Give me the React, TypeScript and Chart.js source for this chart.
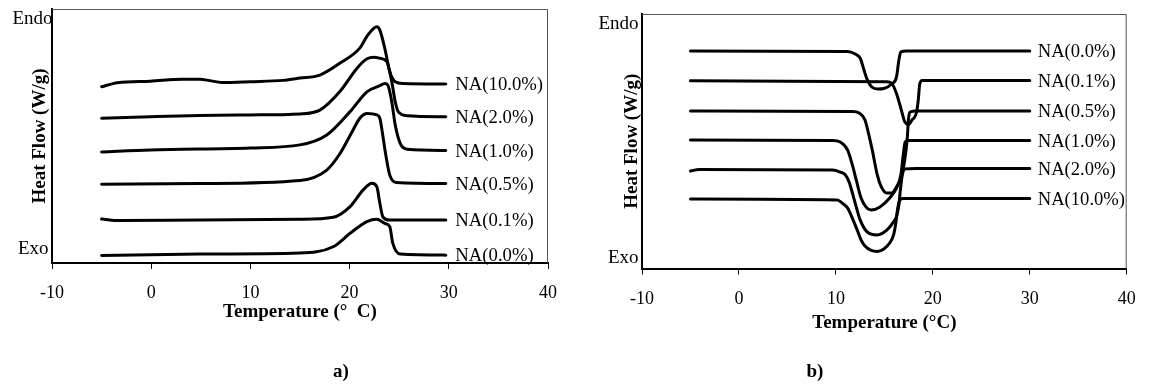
import React, { useEffect, useRef } from "react";
import { Chart, registerables } from "chart.js";

Chart.register(...registerables);

const SERIF = '"Liberation Serif", "Times New Roman", Times, serif';

// ---------- shared axis ----------
const tempMin = -10;
const tempMax = 40;
const tempStep = 10;

// ---------- panel a) heating curves ----------
const labelsA = ["NA(10.0%)", "NA(2.0%)", "NA(1.0%)", "NA(0.5%)", "NA(0.1%)", "NA(0.0%)"];

const tempA100 = [-5.0, -3.4, -0.1, 3.2, 4.9, 5.9, 7.1, 10.0, 13.3, 15.0, 17.0, 19.0, 21.0, 21.85, 22.75, 23.05, 23.55, 24.05, 24.6, 25.4, 29.7];
const flowA100 = [69.4, 71.0, 71.6, 72.3, 72.3, 71.8, 71.1, 71.4, 71.9, 72.8, 74.0, 78.6, 84.5, 89.8, 93.0, 91.7, 84.5, 75.3, 71.4, 70.7, 70.5];

const tempA20 = [-5.0, -0.1, 4.9, 10.0, 15.0, 17.0, 19.0, 20.75, 21.75, 22.5, 23.05, 23.75, 24.25, 24.6, 24.9, 25.8, 29.7];
const flowA20 = [57.0, 57.6, 58.1, 58.3, 58.7, 60.2, 67.4, 76.7, 80.4, 81.0, 80.6, 79.3, 71.4, 63.5, 59.6, 58.0, 57.6];

const tempA10 = [-5.0, -0.1, 10.0, 15.0, 17.7, 20.05, 21.75, 23.05, 23.55, 23.85, 24.25, 24.6, 25.1, 25.8, 29.7];
const flowA10 = [43.7, 44.5, 45.3, 46.5, 50.4, 59.6, 67.4, 69.8, 70.7, 70.1, 63.5, 54.3, 47.1, 44.8, 44.3];

const tempA05 = [-5.0, 4.9, 15.0, 17.7, 19.05, 20.35, 21.05, 21.75, 22.75, 23.05, 23.3, 23.65, 24.05, 24.7, 29.7];
const flowA05 = [31.0, 31.3, 32.5, 36.6, 43.2, 52.4, 57.1, 58.9, 58.3, 57.0, 51.4, 42.5, 34.6, 31.7, 31.3];

const tempA01 = [-5.0, -3.15, 4.9, 15.0, 18.35, 20.05, 21.35, 22.25, 22.75, 23.05, 23.35, 24.05, 29.7];
const flowA01 = [17.3, 16.7, 16.9, 17.2, 18.0, 22.2, 28.7, 31.4, 30.0, 23.5, 18.2, 16.9, 16.9];

const tempA00 = [-5.0, 4.9, 15.0, 18.35, 20.05, 21.75, 22.75, 23.55, 24.05, 24.35, 25.1, 29.7];
const flowA00 = [3.0, 3.5, 3.9, 6.4, 11.7, 16.3, 17.2, 15.6, 14.3, 7.8, 3.5, 3.1];

// ---------- panel b) cooling curves ----------
const labelsB = ["NA(0.0%)", "NA(0.1%)", "NA(0.5%)", "NA(1.0%)", "NA(2.0%)", "NA(10.0%)"];

const tempB00 = [-5.0, 11.2, 12.0, 12.5, 12.9, 13.2, 13.7, 14.35, 14.95, 15.75, 16.25, 16.5, 16.7, 17.3, 30.0];
const flowB00 = [85.5, 85.3, 84.3, 82.7, 78.0, 74.5, 71.3, 70.5, 70.7, 72.5, 75.2, 81.9, 85.1, 85.5, 85.5];

const tempB01 = [-5.0, 15.25, 15.75, 16.25, 16.8, 17.1, 17.5, 17.85, 18.3, 18.5, 18.65, 18.9, 30.0];
const flowB01 = [73.8, 73.4, 72.8, 68.8, 61.6, 57.7, 56.6, 58.3, 61.1, 66.2, 72.5, 73.9, 73.9];

const tempB05 = [-5.0, 11.7, 12.4, 13.0, 13.4, 13.75, 14.25, 14.65, 15.25, 15.75, 16.25, 16.8, 17.1, 17.35, 17.5, 17.65, 18.3, 30.0];
const flowB05 = [61.9, 61.7, 61.1, 58.4, 52.5, 46.6, 37.1, 32.4, 29.7, 29.7, 32.0, 36.7, 42.6, 50.5, 59.1, 61.5, 61.9, 61.9];

const tempB10 = [-5.0, 9.65, 10.45, 11.2, 11.7, 12.1, 12.6, 13.1, 13.65, 14.55, 15.55, 16.25, 16.7, 16.95, 17.15, 17.5, 30.0];
const flowB10 = [50.5, 50.3, 49.7, 46.6, 40.7, 34.8, 27.7, 24.2, 23.0, 24.2, 27.7, 31.6, 36.7, 44.6, 49.7, 50.3, 50.3];

const tempB20 = [-5.0, -4.1, 9.65, 10.45, 11.0, 11.4, 11.7, 12.1, 12.5, 13.2, 14.25, 15.25, 15.95, 16.25, 16.5, 16.65, 16.85, 17.1, 18.3, 30.0];
const flowB20 = [38.3, 38.9, 38.7, 37.9, 36.7, 33.6, 29.7, 24.2, 19.1, 14.5, 13.2, 15.1, 18.3, 20.4, 24.9, 30.8, 36.7, 39.1, 39.3, 39.3];

const tempB100 = [-5.0, 10.15, 10.65, 11.2, 11.7, 12.2, 12.6, 13.0, 13.65, 14.25, 14.95, 15.55, 15.95, 16.2, 16.35, 16.55, 16.9, 30.0];
const flowB100 = [27.3, 26.9, 25.7, 23.8, 19.8, 15.1, 11.2, 8.8, 7.1, 6.7, 7.7, 10.0, 13.2, 18.3, 23.0, 26.5, 27.5, 27.5];

const seriesA = [
  { label: labelsA[0], temps: tempA100, flows: flowA100 },
  { label: labelsA[1], temps: tempA20, flows: flowA20 },
  { label: labelsA[2], temps: tempA10, flows: flowA10 },
  { label: labelsA[3], temps: tempA05, flows: flowA05 },
  { label: labelsA[4], temps: tempA01, flows: flowA01 },
  { label: labelsA[5], temps: tempA00, flows: flowA00 },
];

const seriesB = [
  { label: labelsB[0], temps: tempB00, flows: flowB00 },
  { label: labelsB[1], temps: tempB01, flows: flowB01 },
  { label: labelsB[2], temps: tempB05, flows: flowB05 },
  { label: labelsB[3], temps: tempB10, flows: flowB10 },
  { label: labelsB[4], temps: tempB20, flows: flowB20 },
  { label: labelsB[5], temps: tempB100, flows: flowB100 },
];

type Series = { label: string; temps: number[]; flows: number[] };

type Geo = {
  width: number;
  height: number;
  areaLeft: number;
  areaTop: number;
  areaRight: number;
  areaBottom: number;
  yTitlePad: number;
  xTitlePadBottom: number;
  tickPad: number;
  xTitle: string;
  endoX: number;
  endoY: number;
  exoX: number;
  exoY: number;
  labelSize: number;
  labelGap: number;
  panel: string;
  panelX: number;
  panelY: number;
};

const geoA: Geo = {
  width: 575,
  height: 385,
  areaLeft: 52,
  areaTop: 9,
  areaRight: 548,
  areaBottom: 263,
  yTitlePad: 29,
  xTitlePadBottom: 61.5,
  tickPad: 13,
  xTitle: "Temperature (\u00B0  C)",
  endoX: 52.5,
  endoY: 24,
  exoX: 48.5,
  exoY: 254,
  labelSize: 18.7,
  labelGap: 9.5,
  panel: "a)",
  panelX: 333,
  panelY: 376.5,
};

const geoB: Geo = {
  width: 575,
  height: 385,
  areaLeft: 67,
  areaTop: 14,
  areaRight: 558,
  areaBottom: 268.5,
  yTitlePad: 46,
  xTitlePadBottom: 51,
  tickPad: 14.3,
  xTitle: "Temperature (\u00B0C)",
  endoX: 63.5,
  endoY: 29.3,
  exoX: 63.5,
  exoY: 263,
  labelSize: 18.6,
  labelGap: 8,
  panel: "b)",
  panelX: 231.5,
  panelY: 376.5,
};

function decorPlugin(g: Geo) {
  return {
    id: "decor",
    afterDraw(chart: any) {
      const { ctx, chartArea: a } = chart;
      ctx.save();
      // thin frame on top and right
      ctx.strokeStyle = "#555";
      ctx.lineWidth = 1;
      ctx.beginPath();
      ctx.moveTo(a.left, a.top + 0.5);
      ctx.lineTo(a.right - 0.5, a.top + 0.5);
      ctx.lineTo(a.right - 0.5, a.bottom);
      ctx.stroke();

      ctx.fillStyle = "#000";
      ctx.textBaseline = "alphabetic";
      ctx.font = `19px ${SERIF}`;
      ctx.textAlign = "right";
      ctx.fillText("Endo", g.endoX, g.endoY);
      ctx.fillText("Exo", g.exoX, g.exoY);

      ctx.textAlign = "left";
      ctx.font = `${g.labelSize}px ${SERIF}`;
      chart.data.datasets.forEach((ds: any, i: number) => {
        const meta = chart.getDatasetMeta(i);
        const pts = meta.data;
        const last = pts[pts.length - 1];
        ctx.fillText(ds.label, last.x + g.labelGap, last.y + g.labelSize * 0.331);
      });

      ctx.font = `bold 19px ${SERIF}`;
      ctx.fillText(g.panel, g.panelX, g.panelY);
      ctx.restore();
    },
  };
}

function buildConfig(series: Series[], g: Geo): any {
  return {
    type: "scatter",
    data: {
      datasets: series.map((s) => ({
        label: s.label,
        data: s.temps.map((t, i) => ({ x: t, y: s.flows[i] })),
        showLine: true,
        borderColor: "#000",
        backgroundColor: "#000",
        borderWidth: 3,
        borderCapStyle: "round",
        borderJoinStyle: "round",
        pointRadius: 0,
        pointHoverRadius: 0,
        cubicInterpolationMode: "monotone",
        fill: false,
      })),
    },
    options: {
      responsive: false,
      animation: false,
      events: [],
      layout: {
        padding: {
          left: 0,
          top: g.areaTop,
          right: g.width - g.areaRight,
          bottom: 0,
        },
      },
      plugins: {
        legend: { display: false },
        tooltip: { enabled: false },
        title: { display: false },
      },
      scales: {
        x: {
          type: "linear",
          position: "bottom",
          min: tempMin,
          max: tempMax,
          afterFit: (s: any) => {
            s.height = g.height - g.areaBottom;
          },
          ticks: {
            stepSize: tempStep,
            padding: g.tickPad,
            color: "#000",
            font: { family: SERIF, size: 18 },
            maxRotation: 0,
          },
          grid: {
            display: true,
            drawOnChartArea: false,
            drawTicks: true,
            tickLength: 6,
            color: "#000",
            lineWidth: 1,
          },
          border: { display: true, color: "#000", width: 2 },
          title: {
            display: true,
            text: g.xTitle,
            color: "#000",
            font: { family: SERIF, size: 19, weight: "bold" },
            padding: { top: 0, bottom: g.xTitlePadBottom },
          },
        },
        y: {
          type: "linear",
          position: "left",
          min: 0,
          max: 100,
          afterFit: (s: any) => {
            s.width = g.areaLeft;
          },
          ticks: { display: false },
          grid: { display: false, drawTicks: false },
          border: { display: true, color: "#000", width: 2 },
          title: {
            display: true,
            text: "Heat Flow (W/g)",
            color: "#000",
            font: { family: SERIF, size: 19, weight: "bold" },
            padding: { top: g.yTitlePad, bottom: 0 },
          },
        },
      },
    },
    plugins: [decorPlugin(g)],
  };
}

function Panel({ series, geo, left }: { series: Series[]; geo: Geo; left: number }) {
  const ref = useRef<HTMLCanvasElement | null>(null);
  useEffect(() => {
    if (!ref.current) return;
    const chart = new Chart(ref.current, buildConfig(series, geo));
    return () => chart.destroy();
  }, [series, geo]);
  return (
    <canvas
      ref={ref}
      width={geo.width}
      height={geo.height}
      style={{
        position: "absolute",
        left,
        top: 0,
        width: geo.width,
        height: geo.height,
        display: "block",
      }}
    />
  );
}

export default function App() {
  return (
    <div
      style={{
        position: "absolute",
        left: 0,
        top: 0,
        width: 1150,
        height: 385,
        background: "#fff",
        overflow: "hidden",
      }}
    >
      <Panel series={seriesA} geo={geoA} left={0} />
      <Panel series={seriesB} geo={geoB} left={575} />
    </div>
  );
}
